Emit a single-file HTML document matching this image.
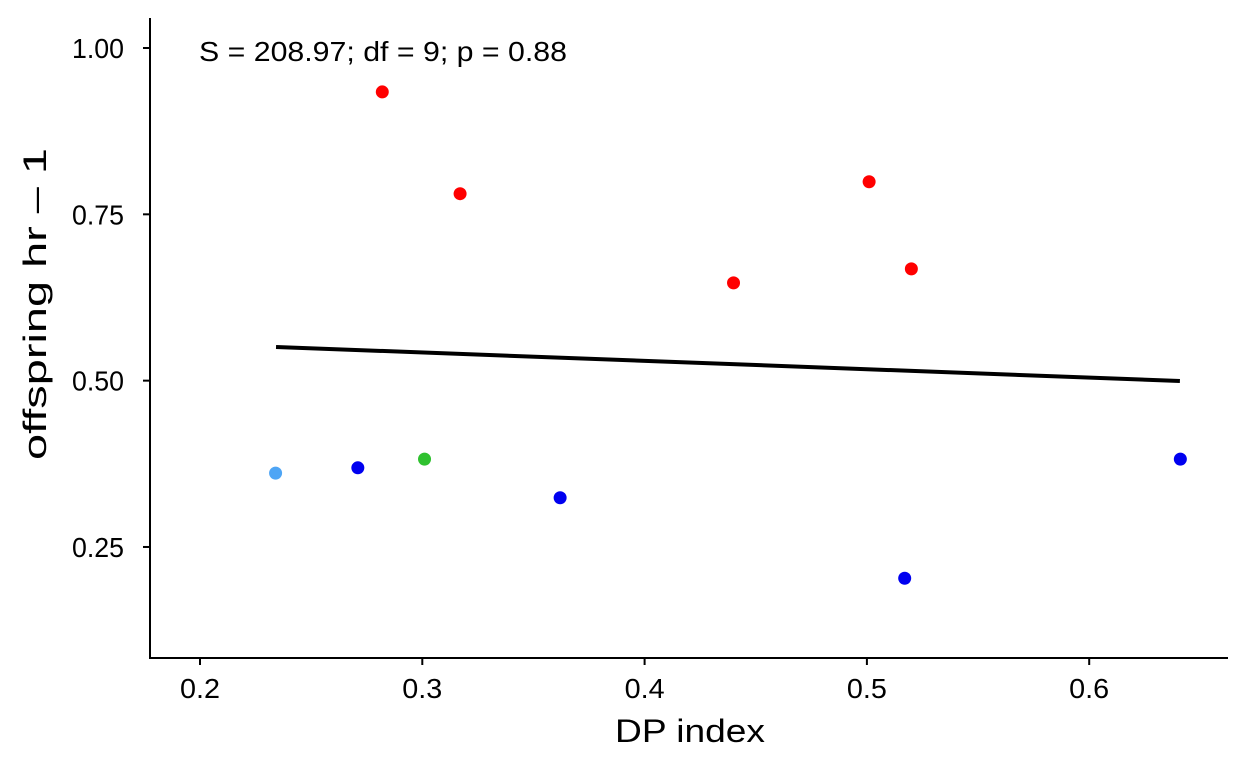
<!DOCTYPE html>
<html><head><meta charset="utf-8"><style>
body{margin:0;background:#fff;}
svg text{font-family:"Liberation Sans",Arial,sans-serif;}
</style></head><body>
<svg id="chart" width="1248" height="768" xmlns="http://www.w3.org/2000/svg"></svg>
<script>
const xTicks=[0.2,0.3,0.4,0.5,0.6];
const yTicks=[0.25,0.50,0.75,1.00];
const yTickLabels=["0.25","0.50","0.75","1.00"];
const xVals=[0.282,0.317,0.440,0.501,0.520,0.234,0.271,0.301,0.362,0.517,0.641];
const yVals=[0.934,0.781,0.647,0.799,0.668,0.361,0.369,0.382,0.324,0.203,0.382];
const groups=["red","red","red","red","red","lightblue","blue","green","blue","blue","blue"];
const fitX=[0.2342,0.6408];
const fitY=[0.5506,0.4995];
const colors={red:"#f00",lightblue:"#4ea5f5",blue:"#0000f0",green:"#2fc12f"};
const sx=v=>200+(v-0.2)*2223;
const sy=v=>48+(1-v)*665.3;
const svg=document.getElementById('chart');
const NS="http://www.w3.org/2000/svg";
function mk(t,a,p){const e=document.createElementNS(NS,t);for(const k in a)e.setAttribute(k,a[k]);(p||svg).appendChild(e);return e;}
let e;
e=mk('line',{x1:150,y1:18,x2:150,y2:659,stroke:'#000','stroke-width':2});


e=mk('line',{x1:149,y1:658,x2:1228,y2:658,stroke:'#000','stroke-width':2});


xTicks.forEach(v=>{
 e=mk('line',{x1:sx(v),y1:658,x2:sx(v),y2:665,stroke:'#000','stroke-width':2});
 
 
 e=mk('text',{x:sx(v),y:698,'font-size':28,'text-anchor':'middle',fill:'#000',textLength:40,lengthAdjust:'spacingAndGlyphs'});e.textContent=String(v);
 
 
});
yTicks.forEach((v,i)=>{
 e=mk('line',{x1:143,y1:sy(v),x2:150,y2:sy(v),stroke:'#000','stroke-width':2});
 
 
 e=mk('text',{x:124,y:sy(v)+10,'font-size':28,'text-anchor':'end',fill:'#000',textLength:52,lengthAdjust:'spacingAndGlyphs'});e.textContent=yTickLabels[i];
 
 
});
e=mk('text',{x:690,y:742,'font-size':32,'text-anchor':'middle',fill:'#000',textLength:150,lengthAdjust:'spacingAndGlyphs'});e.textContent='DP index';


e=mk('text',{x:46,y:304,'font-size':32,'text-anchor':'middle',fill:'#000',textLength:312,lengthAdjust:'spacingAndGlyphs',transform:'rotate(-90 46 304)'});e.textContent='offspring hr – 1';


e=mk('text',{x:199,y:61,'font-size':28,fill:'#000',textLength:368,lengthAdjust:'spacingAndGlyphs'});e.textContent='S = 208.97; df = 9; p = 0.88';


e=mk('line',{x1:sx(fitX[0]),y1:sy(fitY[0]),x2:sx(fitX[1]),y2:sy(fitY[1]),stroke:'#000','stroke-width':4});


xVals.forEach((x,i)=>{
 e=mk('circle',{cx:sx(x),cy:sy(yVals[i]),r:6.5,fill:colors[groups[i]]});
 
 
});
</script>
</body></html>
